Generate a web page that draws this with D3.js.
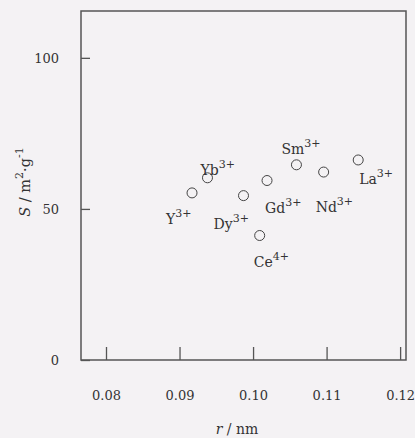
<!DOCTYPE html>
<html>
<head>
<meta charset="utf-8">
<script src="https://cdn.jsdelivr.net/npm/d3@7"></script>
<style>
  body { margin: 0; background: #f4f2f4; }
  svg { display: block; }
  text { font-family: "DejaVu Serif", "Liberation Serif", serif; fill: #333; }
</style>
</head>
<body>
<div id="vis"></div>
<script>
var ions    = ['Y', 'Yb', 'Dy', 'Ce', 'Gd', 'Sm', 'Nd', 'La'];
var charges = ['3+', '3+', '3+', '4+', '3+', '3+', '3+', '3+'];
var radius  = [0.0917, 0.0938, 0.0987, 0.1009, 0.1019, 0.1059, 0.1096, 0.1143];
var area    = [55.3, 60.3, 54.4, 41.2, 59.4, 64.6, 62.2, 66.2];
var xTicks  = [0.08, 0.09, 0.10, 0.11, 0.12];
var yTicks  = [0, 50, 100];
// label offsets relative to each point (dx, dy)
var labelPos = [[-26, 31], [-7, -3], [-30, 33], [-6, 31], [-2, 32], [-15, -11], [-8, 40], [1, 24]];

var W = 415, H = 438;
var margin = {left: 81, right: 9, top: 11, bottom: 78};
var width = W - margin.left - margin.right;
var height = H - margin.top - margin.bottom;

var svg = d3.select('#vis')
    .append('svg')
        .attr('width', W)
        .attr('height', H)
    .append('g')
        .attr('transform', 'translate(' + margin.left + ',' + margin.top + ')');

var x = d3.scaleLinear()
    .domain([0.0766, 0.1208])
    .range([0, width]);

var y = d3.scaleLinear()
    .domain([0, 115.5])
    .range([height, 0]);

// frame
svg.append('rect')
    .attr('width', width)
    .attr('height', height)
    .attr('fill', 'none')
    .attr('stroke', '#555')
    .attr('stroke-width', 1.5);

// x ticks (inward)
var xa = svg.append('g')
    .attr('transform', 'translate(0,' + height + ')')
    .call(d3.axisBottom(x).tickValues(xTicks).tickSizeInner(-13).tickSizeOuter(0).tickPadding(31)
        .tickFormat(d3.format('.2f')));
xa.select('.domain').remove();
xa.selectAll('line').attr('stroke', '#555').attr('stroke-width', 1.3);
xa.selectAll('text').attr('font-size', 13).attr('fill', '#333').attr('font-family', '"DejaVu Serif", serif');

// y ticks (inward)
var ya = svg.append('g')
    .call(d3.axisLeft(y).tickValues(yTicks).tickSizeInner(-9).tickSizeOuter(0).tickPadding(22));
ya.select('.domain').remove();
ya.selectAll('line').attr('stroke', '#555').attr('stroke-width', 1.3);
ya.selectAll('text').attr('font-size', 13).attr('fill', '#333').attr('font-family', '"DejaVu Serif", serif');

// points
svg.append('g')
    .selectAll('circle')
    .data(ions)
    .enter()
    .append('circle')
        .attr('cx', function(d, i) { return x(radius[i]); })
        .attr('cy', function(d, i) { return y(area[i]); })
        .attr('r', 5)
        .attr('fill', 'none')
        .attr('stroke', '#444')
        .attr('stroke-width', 1);

// labels
var lab = svg.append('g')
    .selectAll('text')
    .data(ions)
    .enter()
    .append('text')
        .attr('x', function(d, i) { return x(radius[i]) + labelPos[i][0]; })
        .attr('y', function(d, i) { return y(area[i]) + labelPos[i][1]; })
        .attr('font-size', 14);
lab.append('tspan').text(function(d) { return d; });
lab.append('tspan')
    .attr('dy', -7)
    .attr('font-size', 11)
    .text(function(d, i) { return charges[i]; });

// axis titles
var xt = svg.append('text')
    .attr('x', 237 - margin.left)
    .attr('y', height + 74)
    .attr('text-anchor', 'middle')
    .attr('font-size', 14);
xt.append('tspan').attr('font-style', 'italic').text('r');
xt.append('tspan').text(' / nm');

var yt = svg.append('text')
    .attr('transform', 'translate(-51,' + (182 - margin.top) + ') rotate(-90)')
    .attr('text-anchor', 'middle')
    .attr('font-size', 14.5);
yt.append('tspan').attr('font-style', 'italic').text('S');
yt.append('tspan').text(' / m');
yt.append('tspan').attr('dy', -7).attr('font-size', 11).text('2');
yt.append('tspan').attr('dy', 7).text('·g');
yt.append('tspan').attr('dy', -7).attr('font-size', 11).text('-1');
</script>
</body>
</html>
